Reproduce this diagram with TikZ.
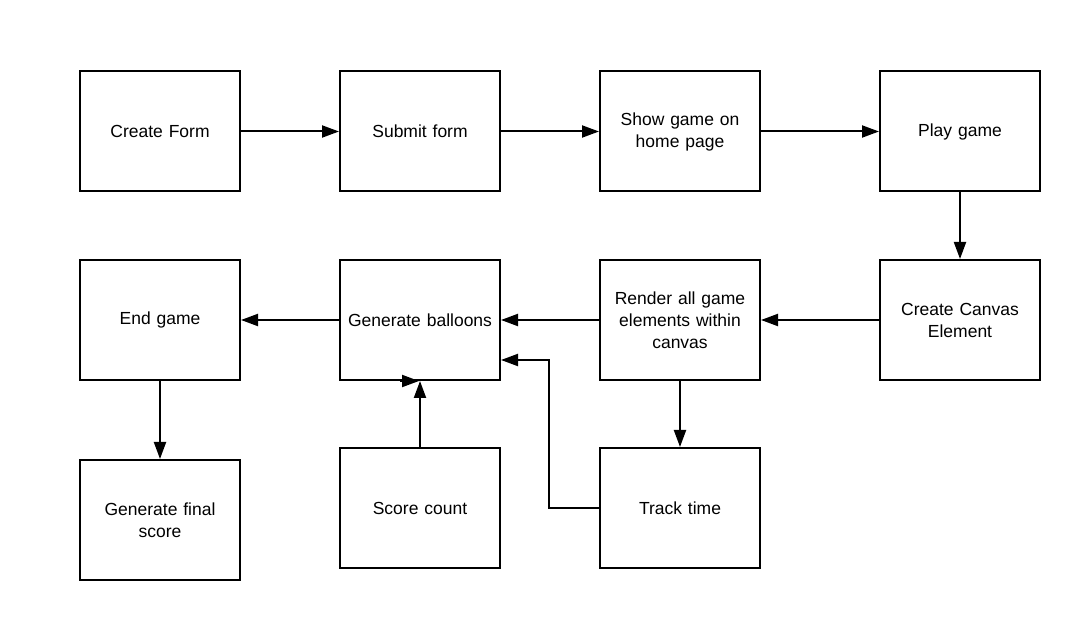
\documentclass[tikz,border=0pt]{standalone}
\usepackage{fontspec}
\setmainfont{Liberation Sans}
\usetikzlibrary{arrows.meta}

\begin{document}
\begin{tikzpicture}[x=1pt, y=-1pt, >={Triangle[length=17pt, width=12pt]}, line width=2pt,
    stepbox/.style={draw, minimum width=160pt, minimum height=120pt, inner sep=4pt,
        align=center, text width=150pt, font=\fontsize{17.5}{22}\selectfont}]

        % Fix the page size
        \useasboundingbox (0,0) rectangle (1080,620);

        % First row
        \node[stepbox] (form) at (160,131.5) {Create Form};
        \node[stepbox] (submit) at (420,131.5) {Submit form};
        \node[stepbox] (show) at (680,131.5) {Show game on\\home page};
        \node[stepbox] (play) at (960,131.5) {Play game};

        % Second row
        \node[stepbox] (endgame) at (160,320) {End game};
        \node[stepbox] (balloons) at (420,320) {Generate balloons};
        \node[stepbox] (render) at (680,320) {Render all game\\elements within\\canvas};
        \node[stepbox] (canvas) at (960,320) {Create Canvas\\Element};

        % Third row
        \node[stepbox] (final) at (160,520) {Generate final\\score};
        \node[stepbox] (score) at (420,508) {Score count};
        \node[stepbox] (track) at (680,508) {Track time};

        % Arrows
        \draw[->] (form) -- (submit);
        \draw[->] (submit) -- (show);
        \draw[->] (show) -- (play);
        \draw[->] (play) -- (canvas);
        \draw[->] (canvas) -- (render);
        \draw[->] (render) -- (balloons);
        \draw[->] (balloons) -- (endgame);
        \draw[->] (endgame) -- (final);
        \draw[->] (score) -- (balloons);
        \draw[->] (render) -- (track);
        \draw[->] (track.west) -- ++(-50,0) |- ([yshift=-40pt]balloons.east);
        \draw[->] ([xshift=-20pt]balloons.south) -- ([xshift=-1pt]balloons.south);

\end{tikzpicture}
\end{document}
